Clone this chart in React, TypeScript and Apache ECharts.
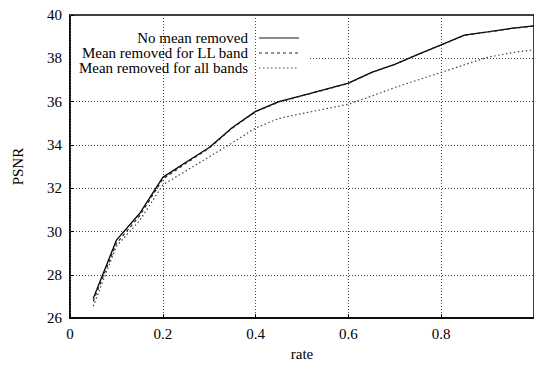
import React, { useEffect, useRef } from "react";
import * as echarts from "echarts";

const rates = [0.05, 0.1, 0.15, 0.2, 0.25, 0.3, 0.35, 0.4, 0.45, 0.5, 0.55, 0.6, 0.65, 0.7, 0.75, 0.8, 0.85, 0.9, 0.95, 1.0];
const noMean = [26.9, 29.6, 30.83, 32.5, 33.2, 33.88, 34.8, 35.55, 36.0, 36.28, 36.56, 36.85, 37.35, 37.72, 38.18, 38.62, 39.07, 39.22, 39.38, 39.5];
const meanLL = [26.78, 29.45, 30.72, 32.42, 33.15, 33.85, 34.78, 35.53, 35.98, 36.27, 36.55, 36.84, 37.34, 37.72, 38.18, 38.62, 39.06, 39.21, 39.37, 39.49];
const meanAll = [26.55, 29.32, 30.5, 32.15, 32.8, 33.45, 34.1, 34.78, 35.22, 35.45, 35.66, 35.88, 36.25, 36.65, 37.0, 37.35, 37.7, 38.05, 38.25, 38.4];
const seriesNames = ["No mean removed", "Mean removed for LL band", "Mean removed for all bands"];
const yTicks = { min: 26, max: 40, interval: 2 };
const xTicks = { min: 0, max: 1, interval: 0.2 };

const FONT = "serif";

export default function App() {
  const ref = useRef<HTMLDivElement>(null);
  useEffect(() => {
    if (!ref.current) return;
    const chart = echarts.init(ref.current, null, { renderer: "svg" });
    const toPairs = (vals: number[]) => rates.map((r, i) => [r, vals[i]]);
    const styles = [
      { color: "#000", width: 1.3, type: "solid" as any },
      { color: "#222", width: 1.2, type: [3, 3] as any },
      { color: "#444", width: 1.2, type: [1.5, 2.5] as any },
    ];
    const allData = [noMean, meanLL, meanAll];
    const legendX = 248;
    const legendYs = [38, 53, 68];
    chart.setOption({
      animation: false,
      backgroundColor: "#fff",
      textStyle: { fontFamily: FONT },
      grid: {
        left: 70,
        top: 15,
        right: -7,
        bottom: 36,
        show: true,
        borderColor: "#000",
        borderWidth: 1.5,
        backgroundColor: "transparent",
      },
      xAxis: {
        type: "value",
        min: xTicks.min,
        max: xTicks.max,
        interval: xTicks.interval,
        z: 3,
        name: "rate",
        nameLocation: "middle",
        nameGap: 20,
        nameTextStyle: { fontFamily: FONT, fontSize: 15, color: "#000" },
        axisLine: { show: true, lineStyle: { color: "#000", width: 1.5 } },
        axisTick: { show: true, inside: true, length: 4, lineStyle: { color: "#000" } },
        axisLabel: {
          fontFamily: FONT,
          fontSize: 15,
          color: "#000",
          margin: 8,
          showMaxLabel: false,
          formatter: (v: number) => String(Math.round(v * 10) / 10),
        },
        splitLine: { show: true, lineStyle: { color: "#444", width: 1, type: [1, 2] } },
      },
      yAxis: {
        type: "value",
        min: yTicks.min,
        max: yTicks.max,
        interval: yTicks.interval,
        z: 0,
        name: "PSNR",
        nameLocation: "middle",
        nameGap: 45,
        nameRotate: 90,
        nameTextStyle: { fontFamily: FONT, fontSize: 15, color: "#000" },
        axisLine: { show: true, lineStyle: { color: "#000", width: 1.5 } },
        axisTick: { show: true, inside: true, length: 4, lineStyle: { color: "#000" } },
        axisLabel: { fontFamily: FONT, fontSize: 15, color: "#000", margin: 8 },
        splitLine: { show: true, lineStyle: { color: "#444", width: 1, type: [1, 2] } },
      },
      graphic: [
        {
          type: "rect",
          z: 1,
          shape: { x: 71, y: 57, width: 237, height: 7 },
          style: { fill: "#fff" },
        },
        ...seriesNames.map((n, i) => ({
          type: "text",
          z: 10,
          x: legendX,
          y: legendYs[i],
          style: {
            text: n,
            fontFamily: FONT,
            fontSize: 15,
            fill: "#000",
            textAlign: "right",
            textVerticalAlign: "middle",
          },
        })),
        ...seriesNames.map((n, i) => ({
          type: "line",
          z: 10,
          shape: { x1: 259, y1: legendYs[i], x2: 299, y2: legendYs[i] },
          style: {
            stroke: i === 0 ? "#666" : styles[i].color,
            lineWidth: i === 0 ? 1.6 : 1.2,
            lineDash: i === 0 ? null : styles[i].type,
          },
        })),
      ],
      series: seriesNames.map((n, i) => ({
        name: n,
        type: "line",
        data: toPairs(allData[i]),
        showSymbol: false,
        symbol: "none",
        z: 5,
        lineStyle: styles[i],
        itemStyle: { color: styles[i].color },
      })),
    });
    return () => chart.dispose();
  }, []);
  return (
    <div
      ref={ref}
      style={{ position: "fixed", left: 0, top: 0, width: 534, height: 366 }}
    />
  );
}
